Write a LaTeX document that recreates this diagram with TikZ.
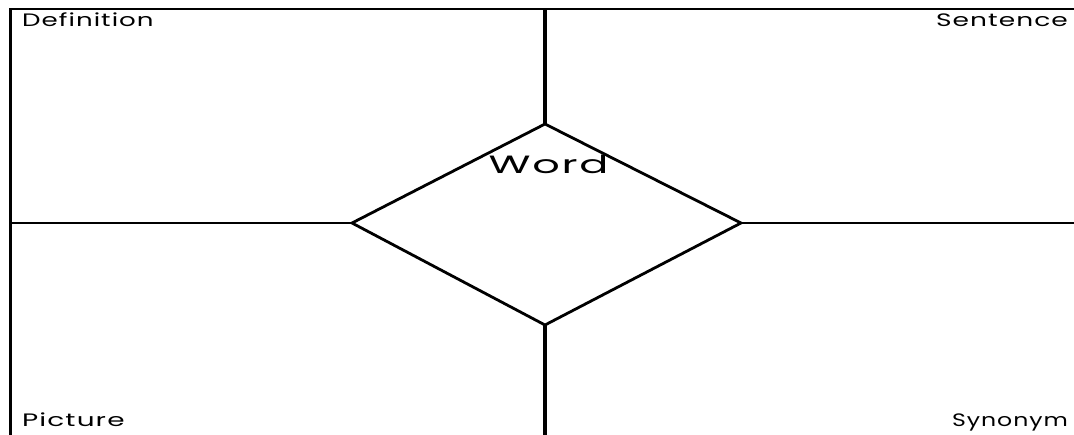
\documentclass[tikz,border=0pt]{standalone}
\usepackage{fontspec}
\setmainfont{Poppins}
\newfontfamily\cardfont[LetterSpace=4]{Poppins}
\usepackage{tikz}
\usetikzlibrary{positioning,calc}
\newcommand{\cardtext}[2]{\scalebox{#1}[1]{#2}}
\tikzset{
  frameline/.style={line width=2.6pt, line cap=rect},
  crossline/.style={line width=2pt},
  stemline/.style={line width=4.4pt},
  wordbox/.style={line width=2.8pt, line join=miter},
  cornerlabel/.style={font=\cardfont\fontsize{18}{20}\selectfont, inner sep=0pt},
}
\begin{document}
\begin{tikzpicture}[x=1pt, y=-1pt]
\useasboundingbox (0,0) rectangle (1074,435);
% ---- frame: top and left edge only ----
\draw[frameline] (10.5,435) -- (10.5,9) -- (1074,9);
% ---- the word diamond ----
\coordinate (top) at (545,124);
\coordinate (bot) at (545,325);
\coordinate (lft) at (352,223);
\coordinate (rgt) at (741,223);
\draw[wordbox] (top) -- (rgt) -- (bot) -- (lft) -- cycle;
\node[font=\cardfont\fontsize{25}{28}\selectfont, inner sep=0pt, anchor=base]
  (word) at (548.5,174) {\cardtext{1.72}{Word}};
% ---- arms from the diamond to the frame ----
\draw[crossline] (lft) -- (10.5,223);
\draw[crossline] (rgt) -- (1074,223);
\draw[stemline] (top) -- (545,9);
\draw[stemline] (bot) -- (545,435);
% ---- the four corner labels ----
\node[cornerlabel, anchor=base west] (defn) at (22,27) {\cardtext{1.45}{Definition}};
\node[cornerlabel, anchor=base east] (sent) at (1068,27) {\cardtext{1.47}{Sentence}};
\node[cornerlabel, anchor=base west] (pict) at (22,427) {\cardtext{1.55}{Picture}};
\node[cornerlabel, anchor=base east] (syno) at (1068,427) {\cardtext{1.31}{Synonym}};
\end{tikzpicture}
\end{document}
